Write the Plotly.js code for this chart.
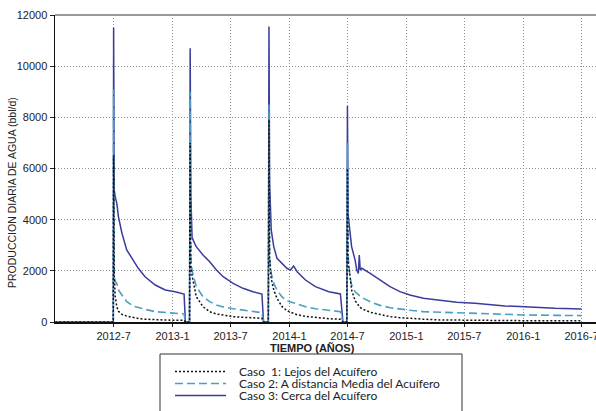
<!DOCTYPE html>
<html>
<head>
<meta charset="utf-8">
<script src="https://cdn.plot.ly/plotly-3.0.1.min.js"></script>
<style>html,body{margin:0;padding:0;background:#fff;}#chart{width:596px;height:411px;}</style>
</head>
<body>
<div id="chart"></div>
<script>
// ---- data ----
const fechas = [
  '2012-01-01','2012-06-30',
  '2012-07-01','2012-07-03','2012-07-06','2012-07-11','2012-07-16','2012-07-27','2012-08-11','2012-09-01','2012-09-16','2012-10-07','2012-11-08','2012-12-09','2013-01-09','2013-02-06','2013-02-10',
  '2013-02-23',
  '2013-02-25','2013-02-27','2013-03-03','2013-03-11','2013-03-16','2013-04-06','2013-04-27','2013-05-18','2013-06-08','2013-07-09','2013-08-09','2013-09-09','2013-10-07','2013-10-12',
  '2013-10-27',
  '2013-10-29','2013-10-31','2013-11-05','2013-11-13','2013-11-23','2013-12-09','2013-12-24','2014-01-04','2014-01-14','2014-01-25','2014-02-20','2014-03-23','2014-05-04','2014-06-09','2014-06-17',
  '2014-06-29',
  '2014-07-01','2014-07-03','2014-07-09','2014-07-14','2014-07-25','2014-07-30','2014-08-04','2014-08-07','2014-08-10','2014-08-15','2014-09-10','2014-10-11','2014-11-11','2014-12-12','2015-01-12','2015-02-23','2015-04-16','2015-06-07','2015-08-03','2015-09-13','2015-11-05','2016-01-06','2016-04-09','2016-07-01'
];
const caso1 = [0,0,
  6500,1800,990,600,420,300,230,160,140,110,80,75,70,70,0,
  0,
  7000,2200,1800,1300,990,600,400,313,260,210,185,165,145,0,
  0,
  7900,2500,1700,1250,925,600,440,390,330,285,220,170,130,105,0,
  0,
  6000,2400,1640,1250,830,730,650,610,570,520,380,280,210,170,140,110,80,70,65,60,55,52,50,50];
const caso2 = [0,0,
  9100,1750,1600,1500,1250,1055,795,620,560,495,405,365,340,313,0,
  0,
  9000,2500,2000,1600,1380,990,795,665,590,520,460,405,365,0,
  0,
  8500,2500,1900,1510,1250,980,830,790,745,710,600,520,445,405,0,
  0,
  7000,2600,1770,1450,1180,1120,1060,1030,1000,960,790,650,560,500,460,405,380,365,345,330,300,275,260,250];
const caso3 = [0,0,
  11500,5150,4900,4640,4120,3470,2815,2420,2100,1770,1445,1250,1185,1095,0,
  0,
  10700,5000,3300,3075,2945,2620,2357,2030,1770,1510,1317,1185,1095,0,
  0,
  11550,5500,3600,2945,2490,2295,2100,2030,2190,1965,1640,1380,1185,1095,0,
  0,
  8440,4200,3335,2945,2420,2030,1900,2620,2030,2100,1900,1640,1380,1185,1055,925,835,770,730,680,625,600,535,510];
const nombres = ['Caso\u00a0 1: Lejos del Acuífero', 'Caso 2: A distancia Media del Acuífero', 'Caso 3: Cerca del Acuífero'];
const tickFechas = ['2012-07-01','2013-01-01','2013-07-01','2014-01-01','2014-07-01','2015-01-01','2015-07-01','2016-01-01','2016-07-01'];
const tickTextos = ['2012-7','2013-1','2013-7','2014-1','2014-7','2015-1','2015-7','2016-1','2016-7'];

// ---- styles ----
const estilos = [
  {color:'#111111', width:1.5, dash:'2px,2px'},
  {color:'#4a9fc2', width:1.6, dash:'8px,4px'},
  {color:'#3a3b9c', width:1.5, dash:'solid'}
];
const gridColor = '#8f8f8f', gridDash = '1px,2px';

const L=55, R=596, T=15, B=322;
const fx = px => (px-L)/(R-L);
const fy = py => (B-py)/(B-T);

const series = [caso1, caso2, caso3];
// draw solid first, then dashed, then dotted on top
const traces = [2,1,0].map(i => ({
  type:'scatter', mode:'lines', x:fechas, y:series[i], name:nombres[i],
  line:{color:estilos[i].color, width:estilos[i].width, dash:estilos[i].dash},
  showlegend:false, hoverinfo:'skip'
}));

const shapes = [
  {type:'line', xref:'paper', yref:'paper', x0:0, x1:1, y0:1, y1:1, line:{color:'#9a9a9a', width:2}},
  {type:'rect', xref:'paper', yref:'paper', x0:fx(160), x1:fx(462), y0:fy(354), y1:fy(418), line:{color:'#333', width:1}, fillcolor:'rgba(0,0,0,0)'}
];
const rows = [371.5, 383.5, 395.5];
const annotations = [
  {xref:'paper', yref:'paper', x:fx(312), y:fy(347.5), text:'<b>TIEMPO (AÑOS)</b>', showarrow:false, xanchor:'center', yanchor:'middle', font:{family:'Liberation Sans, Arial', size:11, color:'#222'}},
  {xref:'paper', yref:'paper', x:fx(12), y:fy(193), text:'PRODUCCION DIARIA DE AGUA (bbl/d)', textangle:-90, showarrow:false, xanchor:'center', yanchor:'middle', font:{family:'Liberation Sans, Arial', size:10.5, color:'#222'}}
];
[0,1,2].forEach(i => {
  shapes.push({type:'line', xref:'paper', yref:'paper', x0:fx(175), x1:fx(226), y0:fy(rows[i]), y1:fy(rows[i]),
    line:{color:estilos[i].color, width:estilos[i].width, dash:estilos[i].dash}});
  annotations.push({xref:'paper', yref:'paper', x:fx(237), y:fy(rows[i]), text:nombres[i], showarrow:false,
    xanchor:'left', yanchor:'middle', font:{family:'Lato, Noto Sans', size:12, color:'#222'}});
});

const layout = {
  width:596, height:411,
  margin:{l:L, r:596-R, t:T, b:411-B, pad:0},
  paper_bgcolor:'#fff', plot_bgcolor:'#fff',
  showlegend:false,
  xaxis:{
    type:'date', range:['2011-12-31','2016-08-15'],
    tickmode:'array', tickvals:tickFechas, ticktext:tickTextos,
    ticks:'outside', ticklen:3, tickcolor:'#222', tickwidth:1,
    ticklabeloverflow:'allow',
    showgrid:true, gridcolor:gridColor, griddash:gridDash, gridwidth:1,
    showline:true, linecolor:'#111', linewidth:1.5,
    zeroline:false,
    tickfont:{family:'Liberation Sans, Arial', size:11, color:'#222'}
  },
  yaxis:{
    range:[0,12000], tickmode:'linear', tick0:0, dtick:2000, tickformat:'d',
    ticks:'outside', ticklen:4, tickcolor:'#222', tickwidth:1,
    showgrid:true, gridcolor:gridColor, griddash:gridDash, gridwidth:1,
    showline:true, linecolor:'#111', linewidth:1.5,
    zeroline:false,
    tickfont:{family:'Liberation Sans, Arial', size:11, color:'#222'}
  },
  shapes:shapes,
  annotations:annotations
};

Plotly.newPlot('chart', traces, layout, {displayModeBar:false, staticPlot:true});
</script>
</body>
</html>
